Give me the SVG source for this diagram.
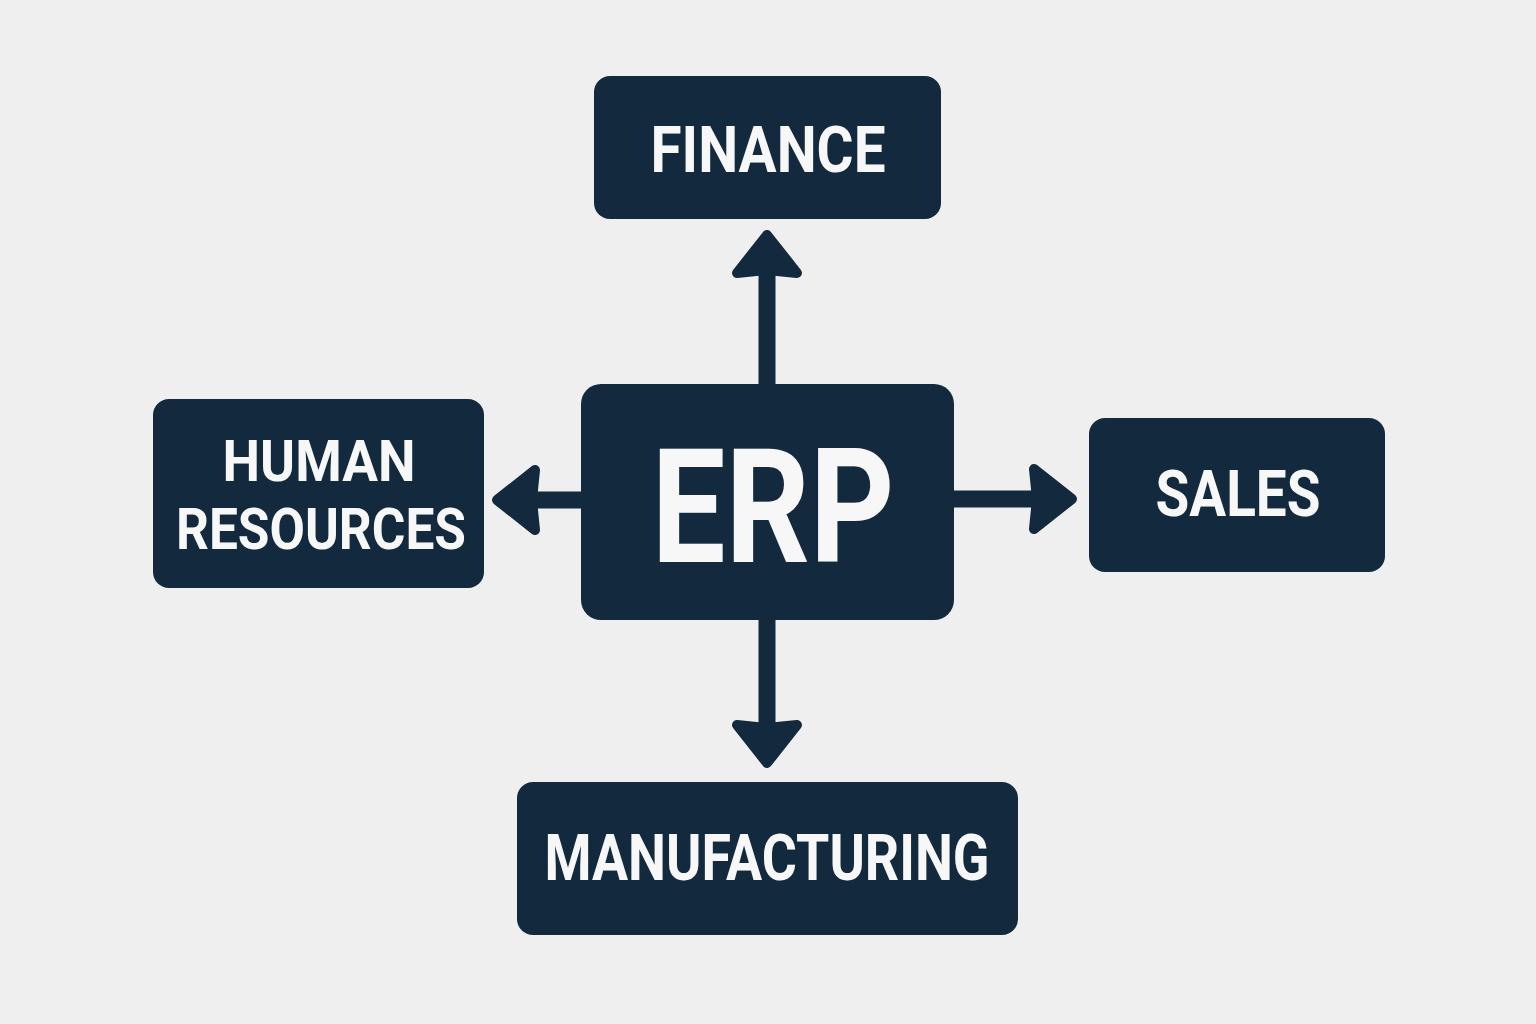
<svg xmlns="http://www.w3.org/2000/svg" width="1536" height="1024" viewBox="0 0 1536 1024">
<style>
.box{fill:#132a3e}
.lbl{fill:#f7f7f7;font-family:Roboto,"DejaVu Sans",sans-serif;font-weight:700;font-size:64px;text-anchor:middle}
.big{font-size:160px}
.hr{font-size:58px}
.shaft{stroke:#132a3e;stroke-width:17;fill:none}
</style>
<rect width="1536" height="1024" fill="#efefef"/>
<g id="connectors">
<line class="shaft" x1="767" y1="384" x2="767" y2="265"/>
<polygon fill="#132a3e" stroke="#132a3e" stroke-width="10" stroke-linejoin="round" points="767,235 737,273 767,270 797,273"/>
<line class="shaft" x1="767" y1="620" x2="767" y2="733"/>
<polygon fill="#132a3e" stroke="#132a3e" stroke-width="10" stroke-linejoin="round" points="767,763 737,725 767,728 797,725"/>
<line class="shaft" x1="581" y1="500" x2="527" y2="500"/>
<polygon fill="#132a3e" stroke="#132a3e" stroke-width="10" stroke-linejoin="round" points="497,500 535,470 532,500 535,530"/>
<line class="shaft" x1="954" y1="499" x2="1042" y2="499"/>
<polygon fill="#132a3e" stroke="#132a3e" stroke-width="10" stroke-linejoin="round" points="1072,499 1034,469 1037,499 1034,529"/>
</g>
<g id="finance">
<rect class="box" x="594" y="76" width="347" height="143" rx="16"/>
<text class="lbl" x="768" y="172" textLength="235" lengthAdjust="spacingAndGlyphs">FINANCE</text>
</g>
<g id="erp">
<rect class="box" x="581" y="384" width="373" height="236" rx="20"/>
<text class="lbl big" x="773" y="562" textLength="243" lengthAdjust="spacingAndGlyphs">ERP</text>
</g>
<g id="hr">
<rect class="box" x="153" y="399" width="331" height="189" rx="16"/>
<text class="lbl hr" x="319" y="481" textLength="193" lengthAdjust="spacingAndGlyphs">HUMAN</text>
<text class="lbl hr" x="321" y="549" textLength="290" lengthAdjust="spacingAndGlyphs">RESOURCES</text>
</g>
<g id="sales">
<rect class="box" x="1089" y="418" width="296" height="154" rx="16"/>
<text class="lbl" x="1238" y="516" textLength="165" lengthAdjust="spacingAndGlyphs">SALES</text>
</g>
<g id="manufacturing">
<rect class="box" x="517" y="782" width="501" height="153" rx="16"/>
<text class="lbl" x="767" y="880" textLength="445" lengthAdjust="spacingAndGlyphs">MANUFACTURING</text>
</g>
</svg>
